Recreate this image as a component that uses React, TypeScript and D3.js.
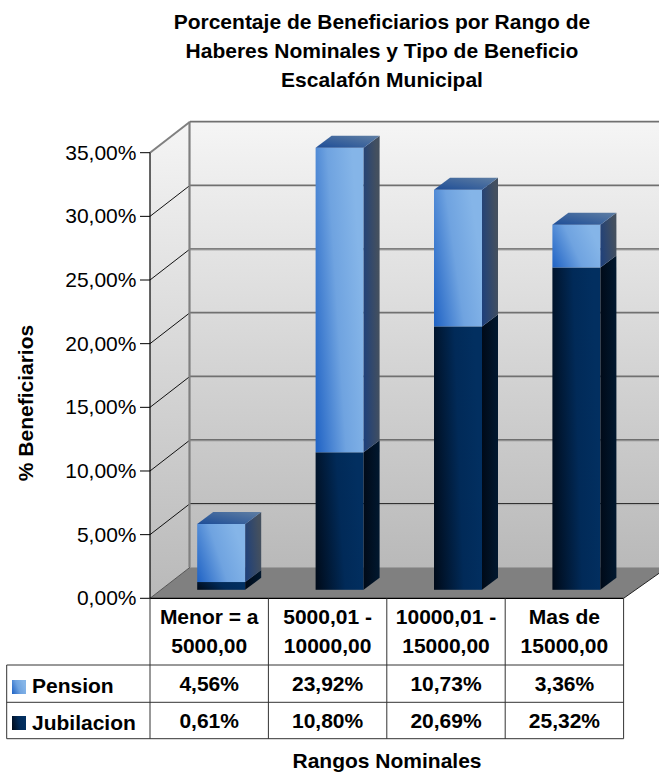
import * as d3 from 'd3'

const categories = ['Menor = a|5000,00', '5000,01 -|10000,00', '10000,01 -|15000,00', 'Mas de|15000,00']
const pension = [4.56, 23.92, 10.73, 3.36]
const jubilacion = [0.61, 10.8, 20.69, 25.32]
const pensionLabels = ['4,56%', '23,92%', '10,73%', '3,36%']
const jubilacionLabels = ['0,61%', '10,80%', '20,69%', '25,32%']
const yTicks = [0, 5, 10, 15, 20, 25, 30, 35]
const darkGrid = [5, 10, 25]

const font = '"Liberation Sans", Arial, sans-serif'

const x = d3.scaleBand<number>().domain(d3.range(4)).range([150, 623.6])
const y = d3.scaleLinear().domain([0, 35]).range([598.3, 152.7])

const wallDx = 40
const wallDy = 31
const barDx = 16
const barDy = 12
const barShiftX = 12
const barShiftY = 8.5
const barW = 48

const poly = (pts: number[][]) => d3.line()(pts as [number, number][]) + 'Z'

function Bar({ i, lo, hi, kind }: { i: number; lo: number; hi: number; kind: string }) {
  const x0 = x(i)! + x.bandwidth() / 2 - barW / 2 + barShiftX
  const x1 = x0 + barW
  const yLo = y(lo) - barShiftY
  const yHi = y(hi) - barShiftY
  return (
    <g>
      <rect x={x0} y={yHi} width={barW} height={yLo - yHi} fill={`url(#${kind}Front)`} />
      <path d={poly([[x1, yLo], [x1 + barDx, yLo - barDy], [x1 + barDx, yHi - barDy], [x1, yHi]])} fill={`url(#${kind}Side)`} />
      {kind === 'pen' && (
        <path d={poly([[x0, yHi], [x0 + barDx, yHi - barDy], [x1 + barDx, yHi - barDy], [x1, yHi]])} fill="url(#penTop)" />
      )}
    </g>
  )
}

export default function App() {
  const tableX = [6.7, ...d3.range(5).map(i => (i === 4 ? x.range()[1] : x(i)!))]
  const rows = [665, 702.3, 738.7]

  return (
    <svg width={659} height={773} style={{ position: 'absolute', left: 0, top: 0 }} fontFamily={font}>
      <defs>
        <linearGradient id="wall" x1="0" y1="0" x2="0" y2="1">
          <stop offset="0" stopColor="#f5f5f5" />
          <stop offset="1" stopColor="#b9b9b9" />
        </linearGradient>
        <linearGradient id="penFront" x1="0" y1="1" x2="1" y2="0.6">
          <stop offset="0" stopColor="#1f62c4" />
          <stop offset="0.55" stopColor="#6fa3e0" />
          <stop offset="1" stopColor="#85b5e8" />
        </linearGradient>
        <linearGradient id="penSide" x1="0" y1="1" x2="1" y2="0.7">
          <stop offset="0" stopColor="#1c3f7c" />
          <stop offset="1" stopColor="#44505f" />
        </linearGradient>
        <linearGradient id="penTop" x1="0" y1="1" x2="1" y2="0">
          <stop offset="0" stopColor="#1d4d97" />
          <stop offset="1" stopColor="#5f7ea3" />
        </linearGradient>
        <linearGradient id="jubFront" x1="0" y1="1" x2="1" y2="0.8">
          <stop offset="0" stopColor="#000a18" />
          <stop offset="0.6" stopColor="#012a58" />
          <stop offset="1" stopColor="#022f60" />
        </linearGradient>
        <linearGradient id="jubSide" x1="0" y1="0" x2="1" y2="0">
          <stop offset="0" stopColor="#000a18" />
          <stop offset="1" stopColor="#01182f" />
        </linearGradient>
      </defs>

      <text textAnchor="middle" fontWeight="bold" fontSize={21} fill="#000">
        <tspan x={382} y={29}>Porcentaje de Beneficiarios por Rango de</tspan>
        <tspan x={382} y={58}>Haberes Nominales y Tipo de Beneficio</tspan>
        <tspan x={382} y={87}>Escalafón Municipal</tspan>
      </text>

      {/* walls */}
      <rect x={x.range()[0] + wallDx} y={y(35) - wallDy} width={659 - 190} height={y(0) - y(35)} fill="url(#wall)" />
      <path d={poly([[150, y(35)], [190, y(35) - wallDy], [190, y(0) - wallDy], [150, y(0)]])} fill="url(#wall)" />
      <path d={poly([[150, y(0)], [190, y(0) - wallDy], [659, y(0) - wallDy], [659, y(0) - 25], [623.6, y(0)]])} fill="#808080" />

      {/* grid */}
      {yTicks.filter(t => t > 0).map(t => {
        const dark = darkGrid.includes(t)
        return (
          <g key={t} fill="none">
            <line x1={190} x2={659} y1={y(t) - wallDy} y2={y(t) - wallDy} stroke={dark ? '#1a1a1a' : '#707070'} strokeWidth={dark ? 1 : 1.8} />
            {dark && <line x1={190} x2={659} y1={y(t) - wallDy + 1} y2={y(t) - wallDy + 1} stroke="#aaa" />}
            <line x1={150} x2={190} y1={y(t)} y2={y(t) - wallDy} stroke={t === 35 ? '#808080' : '#111'} strokeWidth={t === 35 ? 2 : 1} />
          </g>
        )
      })}
      <line x1={189.5} x2={189.5} y1={y(35) - wallDy} y2={y(0) - wallDy} stroke="#808080" strokeWidth={2.2} />
      <line x1={150} x2={190} y1={y(0)} y2={y(0) - wallDy} stroke="#555" />
      <line x1={623.6} x2={659} y1={y(0)} y2={y(0) - 25} stroke="#222" />

      {/* bars */}
      {categories.map((_, i) => (
        <g key={i}>
          <Bar i={i} lo={0} hi={jubilacion[i]} kind="jub" />
          <Bar i={i} lo={jubilacion[i]} hi={jubilacion[i] + pension[i]} kind="pen" />
        </g>
      ))}

      {/* axis */}
      <line x1={150} x2={150} y1={y(35)} y2={y(0)} stroke="#000" strokeWidth={1.2} />
      {yTicks.map(t => (
        <g key={t}>
          <line x1={140} x2={150} y1={y(t)} y2={y(t)} stroke="#000" />
          <text x={136.5} y={y(t) + 7} textAnchor="end" fontSize={21} fill="#000">
            {t.toFixed(2).replace('.', ',')}%
          </text>
        </g>
      ))}
      <text transform="translate(33,403) rotate(-90)" textAnchor="middle" fontWeight="bold" fontSize={21}>% Beneficiarios</text>

      {/* data table */}
      <g stroke="#333" fill="none">
        <line x1={150} x2={623.6} y1={y(0)} y2={y(0)} strokeWidth={1.2} stroke="#000" />
        {rows.map(r => <line key={r} x1={tableX[0]} x2={623.6} y1={r} y2={r} />)}
        <line x1={tableX[0]} x2={tableX[0]} y1={rows[0]} y2={rows[2]} />
        {tableX.slice(1).map(v => <line key={v} x1={v} x2={v} y1={y(0)} y2={rows[2]} />)}
      </g>
      {categories.map((c, i) => {
        const cx = x(i)! + x.bandwidth() / 2
        const [a, b] = c.split('|')
        return (
          <g key={c} textAnchor="middle" fontWeight="bold" fontSize={21} fill="#000">
            <text x={cx} y={624}>{a}</text>
            <text x={cx} y={653}>{b}</text>
            <text x={cx} y={691}>{pensionLabels[i]}</text>
            <text x={cx} y={728}>{jubilacionLabels[i]}</text>
          </g>
        )
      })}
      <rect x={12} y={680} width={14} height={14} fill="url(#penFront)" />
      <rect x={12} y={716} width={14} height={14} fill="url(#jubFront)" />
      <g fontWeight="bold" fontSize={21} fill="#000">
        <text x={32} y={693}>Pension</text>
        <text x={32} y={730}>Jubilacion</text>
      </g>
      <text x={387} y={768} textAnchor="middle" fontWeight="bold" fontSize={21}>Rangos Nominales</text>
    </svg>
  )
}
